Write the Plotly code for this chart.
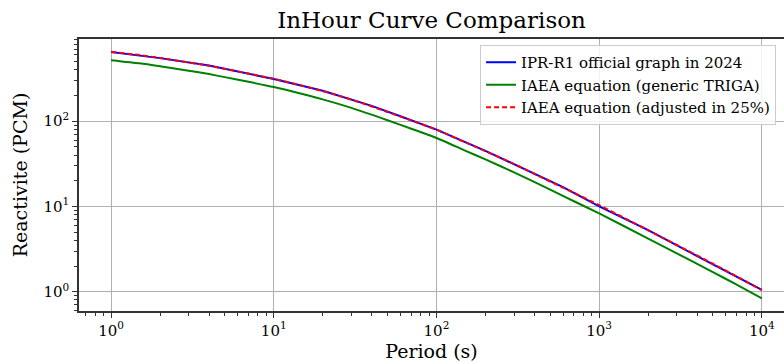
import plotly.graph_objects as go

# ---- data ----
period_official = [1, 2, 4, 8, 10, 20, 40, 60, 100, 200, 400, 600, 1000, 2000, 4000, 6000, 10000]
rho_official = [645, 548, 448, 345, 312, 227, 151, 114, 79.5, 44.8, 24.3, 16.8, 10.0, 5.28, 2.62, 1.75, 1.05]

period_iaea = [1, 1.5, 2, 3, 4, 5, 7, 10, 15, 20, 30, 50, 70, 100, 150, 200, 300, 500, 700,
               1000, 2000, 3000, 5000, 7000, 10000]
rho_generic = [519, 476, 440, 390, 356, 328, 289, 251, 208, 180, 143, 102.5, 81.5, 63.5, 45.2, 35.6, 25.1,
               15.7, 11.5, 8.28, 4.2, 2.82, 1.70, 1.21, 0.836]
rho_adjusted = [649, 595, 550, 488, 445, 410, 361, 314, 260, 225, 179, 128, 102, 79.4, 56.5, 44.5,
                31.4, 19.6, 14.4, 10.35, 5.25, 3.53, 2.13, 1.51, 1.045]

names = ["IPR-R1 official graph in 2024", "IAEA equation (generic TRIGA)", "IAEA equation (adjusted in 25%)"]

x_tick_vals = [1, 10, 100, 1000, 10000]
x_tick_text = ["10<sup>0</sup>", "10<sup>1</sup>", "10<sup>2</sup>", "10<sup>3</sup>", "10<sup>4</sup>"]
y_tick_vals = [1, 10, 100]
y_tick_text = ["10<sup>0</sup>", "10<sup>1</sup>", "10<sup>2</sup>"]

FONT = "DejaVu Serif"

fig = go.Figure()
fig.add_trace(go.Scatter(x=period_official, y=rho_official, mode="lines", name=names[0],
                         line=dict(color="#0000ff", width=2)))
fig.add_trace(go.Scatter(x=period_iaea, y=rho_generic, mode="lines", name=names[1],
                         line=dict(color="#008000", width=2, shape="spline", smoothing=0.6)))
fig.add_trace(go.Scatter(x=period_iaea, y=rho_adjusted, mode="lines", name=names[2],
                         line=dict(color="#ff0000", width=2, dash="5px,3px", shape="spline", smoothing=0.6)))

x_minor = [m * 10 ** d for d in range(-1, 5) for m in range(2, 10)]
y_minor = [m * 10 ** d for d in range(-1, 3) for m in range(2, 10)]

fig.update_layout(
    width=784, height=362,
    margin=dict(l=79, r=0, t=39, b=51),
    paper_bgcolor="white", plot_bgcolor="white",
    font=dict(family=FONT, color="black"),
    title=dict(text="InHour Curve Comparison", x=0.5504, xanchor="center", y=0.945, yanchor="middle",
               font=dict(size=23, family=FONT)),
    showlegend=True,
    legend=dict(x=0.9887, xanchor="right", y=0.978, yanchor="top",
                bgcolor="rgba(255,255,255,0.85)", bordercolor="#cccccc", borderwidth=1,
                font=dict(size=15, family=FONT), tracegroupgap=0),
)
fig.update_xaxes(
    type="log", range=[-0.197, 4.136],
    tickvals=x_tick_vals, ticktext=x_tick_text,
    ticks="outside", ticklen=5, tickwidth=1, tickcolor="#333",
    showline=True, linecolor="#333", linewidth=1.5, mirror=True,
    showgrid=True, gridcolor="#b0b0b0", gridwidth=1,
    tickfont=dict(size=15, family=FONT),
    title=dict(text="Period (s)", font=dict(size=19, family=FONT), standoff=1),
    minor=dict(tickvals=x_minor, ticks="outside", ticklen=3, tickcolor="#333", showgrid=False),
    zeroline=False,
)
fig.update_yaxes(
    type="log", range=[-0.226, 2.963],
    tickvals=y_tick_vals, ticktext=y_tick_text,
    ticks="outside", ticklen=5, tickwidth=1, tickcolor="#333",
    showline=True, linecolor="#333", linewidth=1.5,
    showgrid=True, gridcolor="#b0b0b0", gridwidth=1,
    tickfont=dict(size=15, family=FONT),
    title=dict(text="Reactivite (PCM)", font=dict(size=19, family=FONT), standoff=11),
    minor=dict(tickvals=y_minor, ticks="outside", ticklen=3, tickcolor="#333", showgrid=False),
    zeroline=False,
)

fig.write_html("out.html")
